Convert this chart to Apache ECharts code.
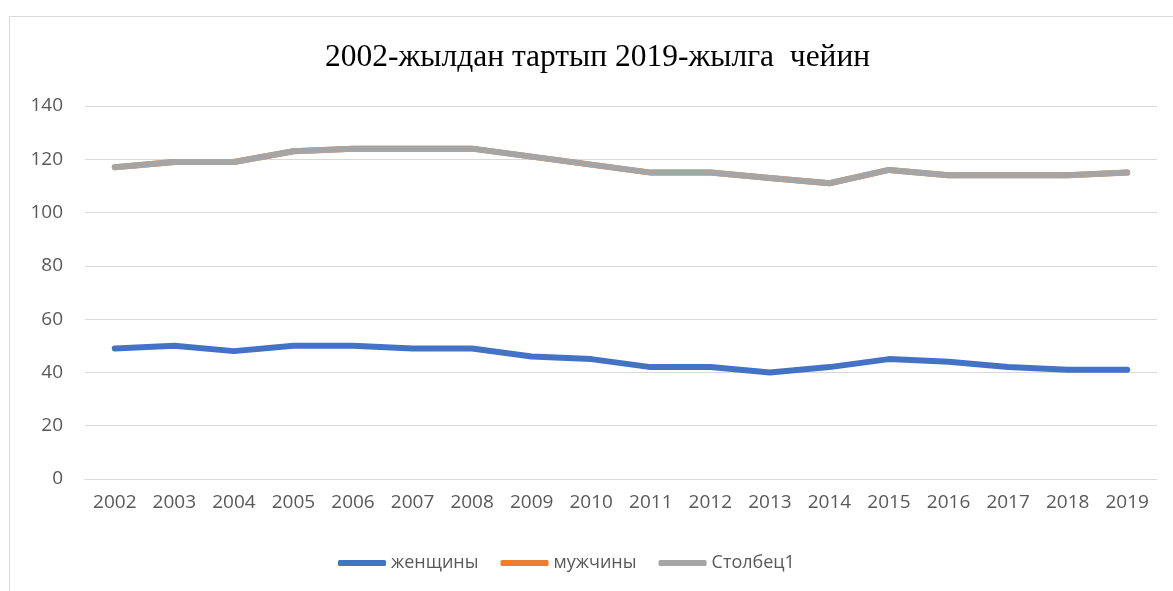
<!DOCTYPE html>
<html>
<head>
<meta charset="utf-8">
<script src="https://cdn.jsdelivr.net/npm/echarts@6/dist/echarts.min.js"></script>
<style>
  html, body { margin: 0; padding: 0; background: #fff; }
  #chart { width: 1173px; height: 591px; }
</style>
</head>
<body>
<div id="chart"></div>
<script>
const years = ['2002', '2003', '2004', '2005', '2006', '2007', '2008', '2009', '2010',
  '2011', '2012', '2013', '2014', '2015', '2016', '2017', '2018', '2019'];
const women = [49, 50, 48, 50, 50, 49, 49, 46, 45, 42, 42, 40, 42, 45, 44, 42, 41, 41];
const men = [117, 119, 119, 123, 124, 124, 124, 121, 118, 115, 115, 113, 111, 116, 114, 114, 114, 115];
const column1 = [117, 119, 119, 123, 124, 124, 124, 121, 118, 115, 115, 113, 111, 116, 114, 114, 114, 115];
const yTicks = { min: 0, max: 140, interval: 20 };

const colors = ['#4472C4', '#ED7D31', '#A5A5A5'];
const labelColor = '#595959';
const gridColor = '#D9D9D9';
const labelFont = 'Open Sans';

const chart = echarts.init(document.getElementById('chart'));

function lineSeries(name, data, color) {
  return {
    name: name,
    type: 'line',
    data: data,
    symbol: 'none',
    smooth: false,
    lineStyle: { color: color, width: 6, cap: 'round', join: 'round' },
    itemStyle: { color: color }
  };
}

chart.setOption({
  animation: false,
  color: colors,
  title: {
    text: '2002-жылдан тартып 2019-жылга  чейин',
    left: 320,
    top: 37,
    textStyle: {
      fontFamily: 'Liberation Serif',
      fontWeight: 'normal',
      fontSize: 31.5,
      color: '#000'
    }
  },
  graphic: [{
    type: 'rect',
    shape: { x: 9.5, y: 16.5, width: 1300, height: 700 },
    style: { fill: 'none', stroke: gridColor, lineWidth: 1 },
    silent: true
  }],
  legend: {
    bottom: 14,
    left: 333,
    icon: 'roundRect',
    itemWidth: 48,
    itemHeight: 6,
    itemGap: 22,
    textStyle: { fontFamily: labelFont, fontSize: 18, color: labelColor },
    data: ['женщины', 'мужчины', 'Столбец1']
  },
  grid: { left: 85, right: 16, top: 106, bottom: 112 },
  xAxis: {
    type: 'category',
    data: years,
    boundaryGap: true,
    axisLine: { lineStyle: { color: gridColor, width: 1 } },
    axisTick: { show: false },
    axisLabel: { color: labelColor, fontFamily: labelFont, fontSize: 19, margin: 14, interval: 0 }
  },
  yAxis: {
    type: 'value',
    min: yTicks.min,
    max: yTicks.max,
    interval: yTicks.interval,
    axisLine: { show: false },
    axisTick: { show: false },
    splitLine: { lineStyle: { color: gridColor, width: 1 } },
    axisLabel: { color: labelColor, fontFamily: labelFont, fontSize: 19, margin: 22 }
  },
  series: [
    lineSeries('женщины', women, colors[0]),
    lineSeries('мужчины', men, colors[1]),
    lineSeries('Столбец1', column1, colors[2])
  ]
});
</script>
</body>
</html>
